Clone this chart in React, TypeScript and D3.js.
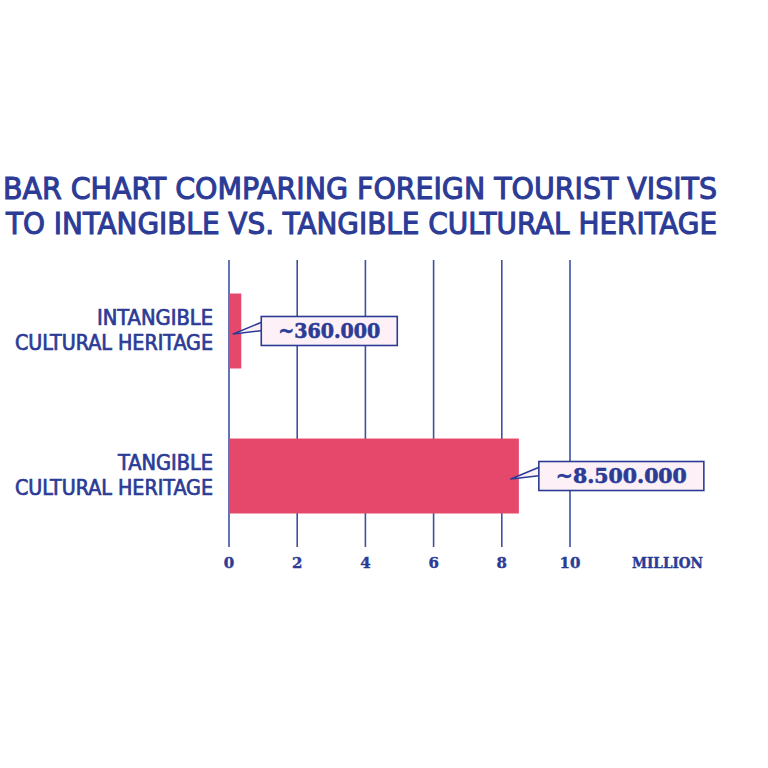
import { useEffect, useRef } from "react";
import * as d3 from "d3";

const CATEGORIES = [
  ["INTANGIBLE", "CULTURAL HERITAGE"],
  ["TANGIBLE", "CULTURAL HERITAGE"],
];
const VALUES = [0.36, 8.5];
const VALUE_LABELS = ["~360.000", "~8.500.000"];
const TICKS = [0, 2, 4, 6, 8, 10];
const UNIT = "MILLION";
const TITLE = [
  "BAR CHART COMPARING FOREIGN TOURIST VISITS",
  "TO INTANGIBLE VS. TANGIBLE CULTURAL HERITAGE",
];

const BLUE = "#2b3b96";
const GRID = "#3f50a4";
const RED = "#e5486b";
const PALE = "#fdf1f7";
const SANS = "'Liberation Sans Narrow', 'DejaVu Sans Condensed', sans-serif";
const SERIF = "'DejaVu Serif', serif";

export default function App() {
  const svgRef = useRef<SVGSVGElement>(null);

  useEffect(() => {
    if (!svgRef.current) return;
    const svg = d3.select(svgRef.current);
    svg.selectAll("*").remove();

    const W = 768, H = 768;
    svg.attr("viewBox", `0 0 ${W} ${H}`);

    const x = d3.scaleLinear().domain([0, 10]).range([229, 570]);
    const y = d3.scaleBand<number>()
      .domain(d3.range(CATEGORIES.length))
      .range([260, 547])
      .paddingInner(0.483)
      .paddingOuter(0.231);
    const barH = y.bandwidth();
    const cy = (i: number) => (y(i) ?? 0) + barH / 2;

    // --- Title (medium weight: regular + thin stroke) ---
    const titleWidths = [714, 711];
    const titleX = [3, 6];
    TITLE.forEach((t, i) => {
      svg.append("text")
        .attr("x", titleX[i]).attr("y", 199 + i * 35)
        .attr("fill", BLUE)
        .attr("stroke", BLUE)
        .attr("stroke-width", 1)
        .attr("font-family", SANS)
        .attr("font-size", 30)
        .attr("textLength", titleWidths[i])
        .attr("lengthAdjust", "spacingAndGlyphs")
        .text(t);
    });

    // --- Grid lines ---
    svg.append("g")
      .selectAll("line")
      .data(TICKS)
      .join("line")
      .attr("x1", (d) => x(d)).attr("x2", (d) => x(d))
      .attr("y1", 260).attr("y2", 547)
      .attr("stroke", GRID)
      .attr("stroke-width", 1.6);

    // --- Tick labels ---
    svg.append("g")
      .selectAll("text")
      .data(TICKS)
      .join("text")
      .attr("x", (d) => x(d))
      .attr("y", 568)
      .attr("text-anchor", "middle")
      .attr("fill", BLUE)
      .attr("stroke", BLUE)
      .attr("stroke-width", 0.4)
      .attr("font-family", SERIF)
      .attr("font-weight", "bold")
      .attr("font-size", 15)
      .text((d) => String(d));

    svg.append("text")
      .attr("x", 632).attr("y", 568)
      .attr("fill", BLUE)
      .attr("stroke", BLUE)
      .attr("stroke-width", 0.4)
      .attr("font-family", SERIF)
      .attr("font-weight", "bold")
      .attr("font-size", 14)
      .attr("textLength", 71)
      .attr("lengthAdjust", "spacingAndGlyphs")
      .text(UNIT);

    // --- Bars ---
    svg.append("g")
      .selectAll("rect")
      .data(VALUES)
      .join("rect")
      .attr("x", x(0))
      .attr("y", (_, i) => y(i) ?? 0)
      .attr("width", (d) => x(d) - x(0))
      .attr("height", barH)
      .attr("fill", RED);

    // --- Category labels ---
    const labelWidths = [
      [116, 198],
      [95, 198],
    ];
    CATEGORIES.forEach((lines, i) => {
      lines.forEach((line, j) => {
        svg.append("text")
          .attr("x", 213)
          .attr("y", cy(i) - 6 + j * 25)
          .attr("text-anchor", "end")
          .attr("fill", BLUE)
          .attr("stroke", BLUE)
          .attr("stroke-width", 0.7)
          .attr("font-family", SANS)
          .attr("font-size", 21)
          .attr("textLength", labelWidths[i][j])
          .attr("lengthAdjust", "spacingAndGlyphs")
          .text(line);
      });
    });

    // --- Callouts ---
    VALUES.forEach((v, i) => {
      const label = VALUE_LABELS[i];
      const bx = x(v) + 20;
      const bw = label.length * 14.5 + 20;
      const bh = 29;
      const c = cy(i);
      const by = c - bh / 2;
      const tipX = x(v) - 8;
      const tipY = c + 3;

      svg.append("path")
        .attr("d", `M${tipX},${tipY} L${bx + 2},${by + 5} L${bx + 2},${by + 14} Z`)
        .attr("fill", PALE)
        .attr("stroke", BLUE)
        .attr("stroke-width", 1.5)
        .attr("stroke-linejoin", "round");

      svg.append("rect")
        .attr("x", bx).attr("y", by)
        .attr("width", bw).attr("height", bh)
        .attr("fill", PALE)
        .attr("stroke", BLUE)
        .attr("stroke-width", 1.6);

      svg.append("text")
        .attr("x", bx + bw / 2)
        .attr("y", c + 7)
        .attr("text-anchor", "middle")
        .attr("fill", BLUE)
        .attr("font-family", SERIF)
        .attr("font-weight", "bold")
        .attr("font-size", 20)
        .attr("stroke", BLUE)
        .attr("stroke-width", 0.6)
        .attr("textLength", bw - 34)
        .attr("lengthAdjust", "spacingAndGlyphs")
        .text(label);
    });
  }, []);

  return (
    <div style={{ position: "absolute", left: 0, top: 0, width: 768, height: 768, background: "#fff" }}>
      <svg ref={svgRef} width={768} height={768} />
    </div>
  );
}
